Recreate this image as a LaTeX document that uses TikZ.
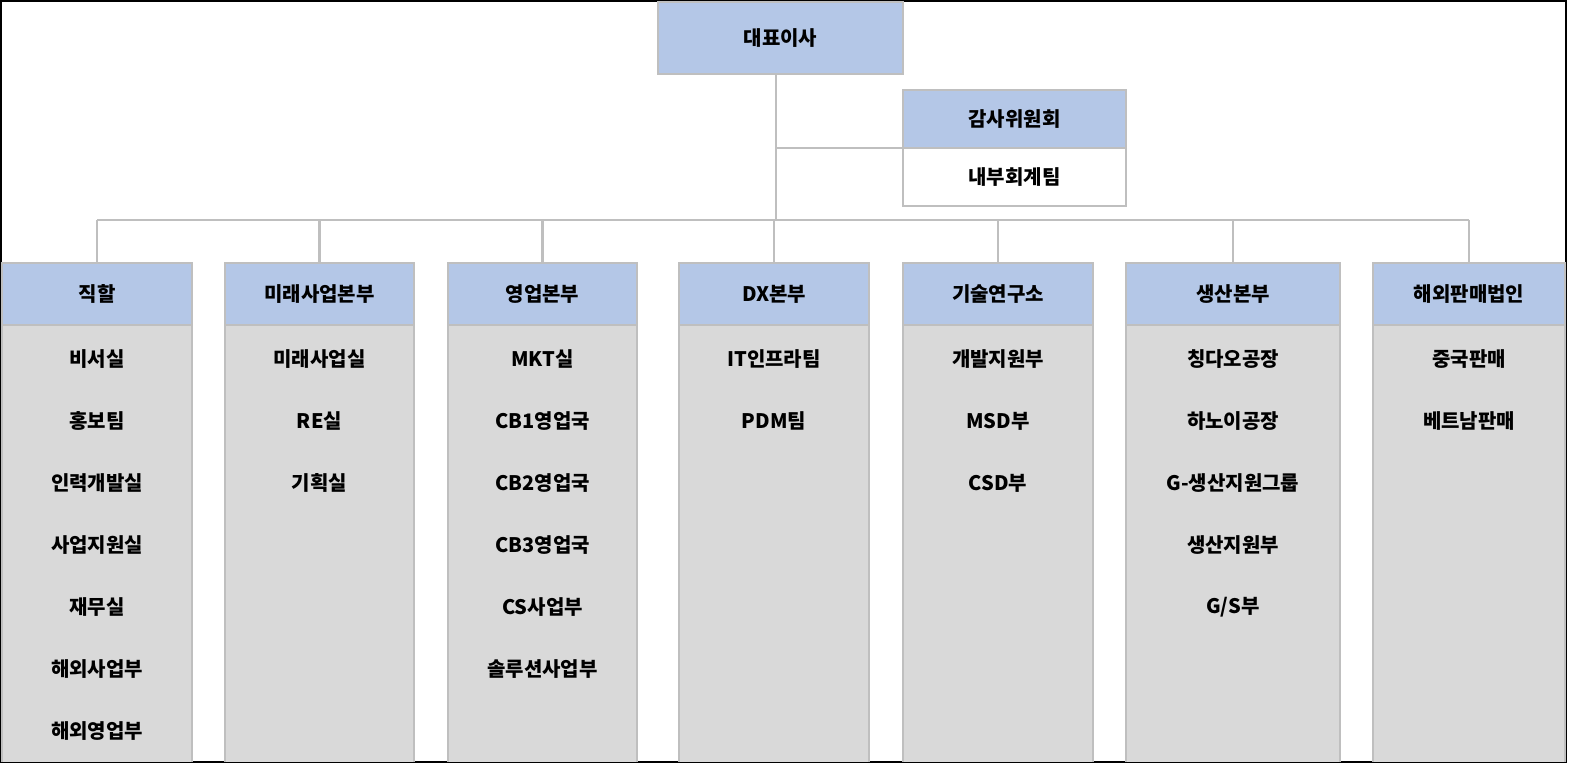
\documentclass[tikz,border=0pt]{standalone}
\usepackage{fontspec}
\setmainfont{Noto Sans CJK KR}
\usetikzlibrary{calc}
\definecolor{headblue}{HTML}{B4C7E7}
\definecolor{bodygray}{HTML}{D9D9D9}
\definecolor{edgegray}{HTML}{BFBFBF}
\tikzset{
  headbox/.style={draw=edgegray,fill=headblue,line width=1pt,font=\bfseries\fontsize{10}{12}\selectfont},
  plainbox/.style={draw=edgegray,fill=white,line width=1pt,font=\bfseries\fontsize{10}{12}\selectfont},
  item/.style={font=\bfseries\fontsize{10}{12}\selectfont},
  link/.style={draw=edgegray,line width=1.2pt}
}
\begin{document}
\begin{tikzpicture}[x=0.5pt,y=-0.5pt]
 	\useasboundingbox (0,0) rectangle (1580,769);
 	\draw[line width=1pt] (1,1) rectangle (1566,762);

 	% top
 	\node[headbox,minimum width=122.5pt,minimum height=36pt] (ceo) at (780.5,38) {대표이사};
 	\node[headbox,minimum width=111.5pt,minimum height=29pt] (audit) at (1014.5,119) {감사위원회};
 	\node[plainbox,minimum width=111.5pt,minimum height=29pt] (ctrl) at (1014.5,177) {내부회계팀};
 	\coordinate (hub) at (776,220);
 	\coordinate (mid) at (776,148);
 	\draw[link] (ceo.south -| hub) -- (hub);
 	\draw[link] (mid) -- (mid -| audit.west);
 	\draw[link] (97,220) -- (1469,220);

 	% columns
 	\foreach \n/\l/\r/\title in {1/2/192/직할, 2/225/414/미래사업본부, 3/448/637/영업본부, 4/679/869/DX본부, 5/903/1093/기술연구소, 6/1126/1340/생산본부, 7/1373/1565/해외판매법인}{
 	 	\fill[bodygray] (\l,325) rectangle (\r,762);
 	 	\draw[edgegray,line width=1pt] (\l,762) -- (\l,325) -- (\r,325) -- (\r,762);
 	 	\node[headbox,minimum width={(\r-\l)*0.5pt},minimum height=31pt] (col\n) at ({(\l+\r)/2},294) {\title};
 	 	\draw[link] (col\n.north |- hub) -- (col\n.north);
 	}

 	% items
 	\foreach \n/\list in {1/{비서실,홍보팀,인력개발실,사업지원실,재무실,해외사업부,해외영업부}, 2/{미래사업실,RE실,기획실}, 3/{MKT실,CB1영업국,CB2영업국,CB3영업국,CS사업부,솔루션사업부}, 4/{IT인프라팀,PDM팀}, 5/{개발지원부,MSD부,CSD부}, 6/{칭다오공장,하노이공장,G-생산지원그룹,생산지원부,G/S부}, 7/{중국판매,베트남판매}}{
 	 	\foreach \t [count=\i] in \list {
 	 	 	\node[item] (it\n-\i) at ($(col\n.south)+(0,{33+(\i-1)*62})$) {\t};
 	 	}
 	}
\end{tikzpicture}
\end{document}
